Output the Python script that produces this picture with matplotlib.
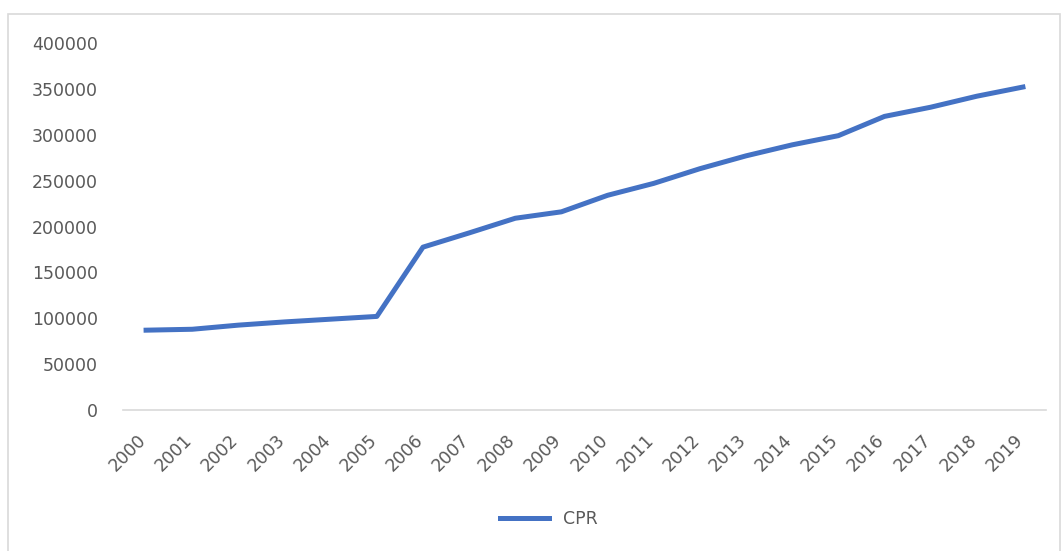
import matplotlib
matplotlib.use("Agg")
import matplotlib.pyplot as plt
from matplotlib.patches import Rectangle
from matplotlib.transforms import ScaledTranslation, blended_transform_factory

years = [str(y) for y in range(2000, 2020)]
cpr = [87000, 88000, 92500, 96000, 99000, 102000, 177500, 193000, 209000, 216000,
       234000, 247000, 263000, 277000, 289000, 299000, 320000, 330000, 342000, 352000]
yticks = [0, 50000, 100000, 150000, 200000, 250000, 300000, 350000, 400000]

W, H = 1062, 551
fig = plt.figure(figsize=(W / 100, H / 100), dpi=100)
fig.patch.set_facecolor("white")
fig.patches.append(Rectangle((8 / W, -0.01), (1060 - 8) / W, 1 - 14 / H + 0.01,
                             transform=fig.transFigure, fill=False,
                             edgecolor="#d9d9d9", linewidth=1.2))

ax = fig.add_axes([123 / W, 1 - 410 / H, (1046 - 123) / W, (410 - 43) / H])
x = list(range(len(years)))
ax.plot(x, cpr, color="#4472C4", linewidth=3.6, label="CPR", solid_joinstyle="round")
ax.set_xlim(-0.5, len(years) - 0.5)
ax.set_ylim(0, 400000)
ax.set_yticks(yticks)
ax.set_yticklabels([str(v) for v in yticks])
ax.set_xticks(x)
ax.set_xticklabels([])
base = blended_transform_factory(ax.transData, ax.transAxes)
offset = ScaledTranslation(-0.09, -0.21, fig.dpi_scale_trans)
for xi, lab in zip(x, years):
    ax.text(xi, 0, lab, transform=base + offset, rotation=45, ha="right", va="top",
            rotation_mode="anchor", color="#595959", fontsize=12.5)
for s in ["top", "right", "left"]:
    ax.spines[s].set_visible(False)
ax.spines["bottom"].set_color("#d9d9d9")
ax.spines["bottom"].set_linewidth(1.2)
ax.tick_params(axis="both", length=0, colors="#595959", labelsize=12.5)
ax.tick_params(axis="y", pad=18)

leg = fig.legend(loc="center", bbox_to_anchor=(549 / W, 1 - 519 / H), frameon=False,
                 fontsize=12.5, handlelength=2.8)
for t in leg.get_texts():
    t.set_color("#595959")

fig.savefig("out.png", dpi=100)
